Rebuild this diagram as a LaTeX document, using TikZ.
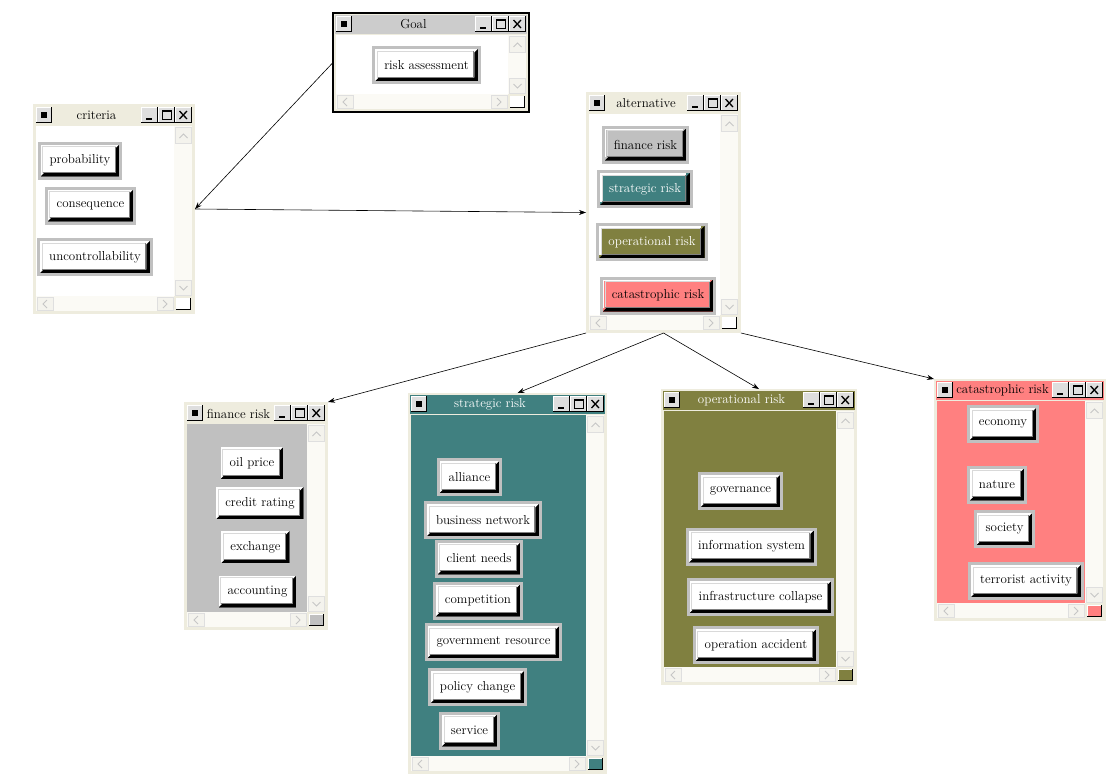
\documentclass[tikz,border=0pt]{standalone}
\usepackage{fontspec}
\usetikzlibrary{arrows.meta,calc}
\definecolor{wincream}{RGB}{238,236,222}
\definecolor{trackcream}{RGB}{251,250,245}
\definecolor{scrollbtn}{RGB}{244,243,237}
\definecolor{framegray}{RGB}{192,192,192}
\definecolor{titlegray}{RGB}{204,204,204}
\definecolor{btngray}{RGB}{222,222,222}
\definecolor{fingray}{RGB}{192,192,192}
\definecolor{stratteal}{RGB}{64,128,128}
\definecolor{opolive}{RGB}{128,128,64}
\definecolor{catsalmon}{RGB}{255,128,128}
\newcommand\lbl{\fontsize{13}{15}\selectfont}
\tikzset{
  winbox/.style={fill=wincream,inner sep=0pt,outer sep=0pt},
  wintitle/.style={font=\lbl,inner sep=0pt},
  riskbtn/.style={fill=white,draw=framegray,line width=3pt,inner xsep=10.5pt,inner ysep=0pt,
    minimum height=35pt,font=\lbl,
    path picture={
      \fill[black] ([shift={(1.5pt,1.5pt)}]path picture bounding box.south west)
        -- ([shift={(-1.5pt,1.5pt)}]path picture bounding box.south east)
        -- ([shift={(-1.5pt,-1.5pt)}]path picture bounding box.north east)
        -- ([shift={(-5pt,-5pt)}]path picture bounding box.north east)
        -- ([shift={(-5pt,5pt)}]path picture bounding box.south east)
        -- ([shift={(5pt,5pt)}]path picture bounding box.south west) -- cycle;
      \draw[white,line width=1.5pt] ([shift={(2.25pt,5pt)}]path picture bounding box.south west)
        |- ([shift={(-5pt,-2.25pt)}]path picture bounding box.north east);
      \draw[framegray!60,line width=1pt] ([shift={(3.75pt,5pt)}]path picture bounding box.south west)
        |- ([shift={(-5pt,-3.75pt)}]path picture bounding box.north east);
      \draw[gray,line width=1pt] ([shift={(3.75pt,5.5pt)}]path picture bounding box.south west)
        -| ([shift={(-5.5pt,-3.75pt)}]path picture bounding box.north east);
    }},
  link/.style={-{Stealth[length=7pt,width=5pt]},line width=0.6pt}
}
% bevelled box: x1 y1 x2 y2 fill
\newcommand\bevelbox[5]{%
  \fill[#5] (#1,#2) rectangle (#3,#4);
  \draw[white,line width=1pt] ({#1+0.5},#4) -- ({#1+0.5},{#2+0.5}) -- (#3,{#2+0.5});
  \draw[black,line width=1pt] (#1,{#4-0.5}) -- ({#3-0.5},{#4-0.5}) -- ({#3-0.5},#2);}
% flat scroll button: x1 y1 x2 y2
\newcommand\scrollbox[4]{%
  \filldraw[fill=scrollbtn,draw=gray!25,line width=0.6pt] (#1,#2) rectangle (#3,#4);}
% window: name x y width height titlefill bodyfill titletext title
\newcommand\riskwindow[9]{%
  \begin{scope}[shift={(#2,#3)}]
    \pgfmathsetmacro\wb{#4-21}\pgfmathsetmacro\wc{#4-3}
    \pgfmathsetmacro\hb{#5-18}\pgfmathsetmacro\hc{#5-3}
    \pgfmathsetmacro\tx{(#4-35)/2}
    \node[winbox,minimum width=#4pt,minimum height=#5pt,anchor=north west] (#1) at (0,0) {};
    \fill[#6] (2,2) rectangle ({#4-2},21);
    \fill[#7] (3,22) rectangle (\wb,\hb);
    \fill[trackcream] (\wb,22) rectangle (\wc,\hb);
    \fill[trackcream] (3,\hb) rectangle (\wb,\hc);
    % scroll buttons
    \scrollbox{\wb+1.5}{23.5}{\wc-1}{39}
    \scrollbox{\wb+1.5}{\hb-16}{\wc-1}{\hb-1}
    \scrollbox{4}{\hb+1.5}{20}{\hc-1}
    \scrollbox{\wb-17}{\hb+1.5}{\wb-1}{\hc-1}
    \draw[gray!45,line width=0.8pt] ({\wb+5.5},34) -- ({\wb+9.5},30) -- ({\wb+13.5},34);
    \draw[gray!45,line width=0.8pt] ({\wb+5.5},{\hb-10}) -- ({\wb+9.5},{\hb-6}) -- ({\wb+13.5},{\hb-10});
    \draw[gray!45,line width=0.8pt] (14,{\hb+4}) -- (10,{\hb+8}) -- (14,{\hb+12});
    \draw[gray!45,line width=0.8pt] ({\wb-11},{\hb+4}) -- ({\wb-7},{\hb+8}) -- ({\wb-11},{\hb+12});
    \bevelbox{\wb+2}{\hb+2}{\wc-1}{\hc-1}{#7}
    % title buttons
    \bevelbox{3}{3}{19}{19}{btngray}
    \fill (8,8) rectangle (14,14);
    \bevelbox{#4-54}{3}{#4-37}{19}{btngray}
    \bevelbox{#4-37}{3}{#4-20}{19}{btngray}
    \bevelbox{#4-20}{3}{#4-3}{19}{btngray}
    \fill ({#4-49},14) rectangle ({#4-43},16);
    \draw[line width=1pt] ({#4-33},6.5) rectangle ({#4-24},15.5);
    \fill ({#4-33},6) rectangle ({#4-24},8);
    \draw[line width=1.3pt] ({#4-15.5},7) -- ({#4-8},15) ({#4-15.5},15) -- ({#4-8},7);
    \node[wintitle,text=#8] (#1-title) at (\tx,11.5) {#9};
  \end{scope}}

\begin{document}
\begin{tikzpicture}[x=1pt,y=-1pt,>=Stealth]
  \useasboundingbox[fill=white] (0,0) rectangle (1108,774);

  \riskwindow{goal}{333}{13}{196}{99}{titlegray}{white}{black}{Goal}
  \draw[line width=2pt] (goal.north west) rectangle (goal.south east);
  \riskwindow{crit}{33}{104}{162}{210}{wincream}{white}{black}{criteria}
  \riskwindow{alt}{586}{92}{155}{241}{wincream}{white}{black}{alternative}
  \riskwindow{fin}{184}{402}{144}{228}{wincream}{fingray}{black}{finance risk}
  \riskwindow{strat}{408}{393}{199}{381}{stratteal}{stratteal}{white}{strategic risk}
  \riskwindow{oper}{661}{389}{196}{296}{opolive}{opolive}{white}{operational risk}
  \riskwindow{cat}{934}{379}{172}{242}{catsalmon}{catsalmon}{black}{catastrophic risk}

  \node[riskbtn] (ra) at (426.5,65) {risk assessment};

  \node[riskbtn] (prob) at (80,160.5) {probability};
  \node[riskbtn] (cons) at (90.5,205.5) {consequence};
  \node[riskbtn] (unctrl) at (95,257) {uncontrollability};

  \node[riskbtn,fill=fingray] (altfin) at (645.5,144.5) {finance risk};
  \node[riskbtn,fill=stratteal,text=white] (altstrat) at (645,189) {strategic risk};
  \node[riskbtn,fill=opolive,text=white] (altop) at (652,242) {operational risk};
  \node[riskbtn,fill=catsalmon] (altcat) at (658,295.5) {catastrophic risk};

  \node[riskbtn] (oil) at (252,463) {oil price};
  \node[riskbtn] (credit) at (260,503) {credit rating};
  \node[riskbtn] (exch) at (255.5,547) {exchange};
  \node[riskbtn] (acct) at (257.5,591.5) {accounting};

  \node[riskbtn] (ally) at (469.5,477) {alliance};
  \node[riskbtn] (busnet) at (483,520) {business network};
  \node[riskbtn] (client) at (479,558.5) {client needs};
  \node[riskbtn] (compet) at (478,600.5) {competition};
  \node[riskbtn] (govres) at (493.5,642) {government resource};
  \node[riskbtn] (policy) at (477.5,687) {policy change};
  \node[riskbtn] (serv) at (469.5,730.5) {service};

  \node[riskbtn] (govern) at (740.5,491) {governance};
  \node[riskbtn] (infosys) at (751.5,546.5) {information system};
  \node[riskbtn] (infra) at (760.5,597) {infrastructure collapse};
  \node[riskbtn] (opacc) at (756,645) {operation accident};

  \node[riskbtn] (econ) at (1003,424) {economy};
  \node[riskbtn] (natur) at (997,484.5) {nature};
  \node[riskbtn] (soc) at (1004.5,529) {society};
  \node[riskbtn] (terror) at (1026,581) {terrorist activity};

  \draw[link] (goal.west) -- (crit.east);
  \draw[link] (crit.east) -- (alt.west);
  \draw[link] (alt.south west) -- (fin.north east);
  \draw[link] (alt.south) -- ([xshift=10pt]strat.north);
  \draw[link] (alt.south) -- (oper.north);
  \draw[link] (alt.south east) -- (cat.north west);
\end{tikzpicture}
\end{document}
